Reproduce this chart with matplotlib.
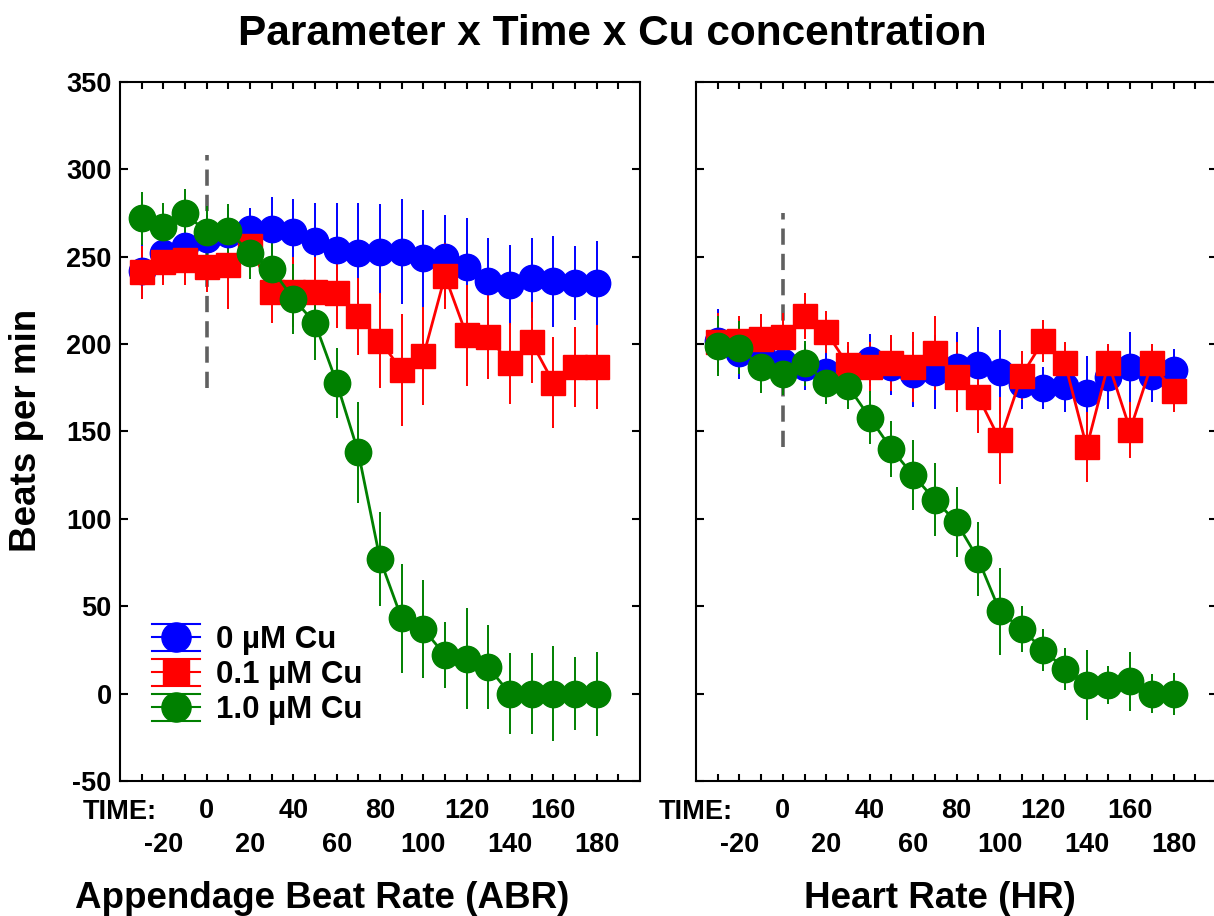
import matplotlib
matplotlib.use('Agg')
import matplotlib.pyplot as plt
from matplotlib.lines import Line2D
from matplotlib.legend_handler import HandlerBase

plt.rcParams['font.family'] = ['Liberation Sans', 'DejaVu Sans']
plt.rcParams['font.weight'] = 'bold'
plt.rcParams['axes.unicode_minus'] = False

# Tiempo (min) de cada medicion
time = [-30, -20, -10, 0, 10, 20, 30, 40, 50, 60, 70, 80, 90, 100, 110, 120, 130, 140, 150, 160, 170, 180]

# Appendage Beat Rate (ABR)
abr_0 = [242, 252, 256, 260, 263, 266, 266, 264, 259, 254, 252, 253, 253, 249, 250, 244, 236, 234, 238, 236, 235, 235]
abr_0_err = [16, 15, 15, 14, 15, 12, 18, 19, 22, 27, 29, 27, 30, 28, 24, 28, 25, 23, 23, 26, 21, 24]
abr_01 = [241, 247, 248, 244, 245, 256, 230, 230, 230, 229, 216, 202, 185, 193, 239, 205, 204, 189, 201, 178, 187, 187]
abr_01_err = [15, 13, 14, 14, 25, 12, 18, 20, 20, 20, 22, 27, 32, 28, 19, 29, 24, 23, 23, 26, 23, 24]
abr_1 = [272, 267, 275, 264, 265, 252, 243, 226, 212, 178, 138, 77, 43, 37, 22, 20, 15, 0, 0, 0, 0, 0]
abr_1_err = [15, 14, 14, 15, 15, 15, 18, 20, 21, 20, 29, 27, 31, 28, 19, 29, 24, 23, 23, 27, 21, 24]

# Heart Rate (HR)
hr_0 = [202, 195, 197, 190, 187, 184, 185, 191, 187, 183, 184, 187, 188, 184, 177, 175, 176, 172, 181, 187, 182, 185]
hr_0_err = [18, 15, 17, 15, 13, 13, 14, 15, 16, 19, 21, 20, 22, 24, 14, 12, 15, 21, 18, 20, 15, 12]
hr_01 = [201, 202, 203, 204, 216, 207, 188, 187, 189, 187, 195, 181, 170, 145, 182, 202, 189, 141, 189, 151, 189, 173]
hr_01_err = [17, 14, 14, 14, 13, 12, 13, 14, 16, 20, 21, 20, 21, 25, 14, 12, 12, 20, 11, 16, 11, 12]
hr_1 = [199, 198, 187, 183, 189, 178, 176, 158, 140, 125, 111, 98, 77, 47, 37, 25, 14, 5, 5, 7, 0, 0]
hr_1_err = [17, 15, 15, 12, 13, 12, 13, 15, 16, 20, 21, 20, 21, 25, 13, 12, 12, 20, 11, 17, 11, 12]

labels = ['0 µM Cu', '0.1 µM Cu', '1.0 µM Cu']
colors = ['#0000ff', '#ff0000', '#008000']
markers = ['o', 's', 'o']
msizes = [19, 17, 19]

# Linea punteada de aplicacion del Cu (t = 0)
cu_time = 0
abr_dash = [175, 308]
hr_dash = [141, 275]

# etiquetas del eje x en dos filas
row1_ticks = [0, 40, 80, 120, 160]
row2_ticks = [-20, 20, 60, 100, 140, 180]


class HandlerErr(HandlerBase):
    # marcador con lineas horizontales arriba y abajo, estilo Statistica
    def create_artists(self, legend, orig_handle, xdescent, ydescent,
                       width, height, fontsize, trans):
        c = orig_handle.get_color()
        x0, x1 = -xdescent, -xdescent + width
        yc = -ydescent + height / 2
        arts = []
        for y in (-ydescent, yc, -ydescent + height):
            ln = Line2D([x0, x1], [y, y], color=c, lw=1.5)
            ln.set_transform(trans)
            arts.append(ln)
        mk = Line2D([(x0 + x1) / 2], [yc], marker=orig_handle.get_marker(),
                    markersize=orig_handle.get_markersize(), color=c, lw=0)
        mk.set_transform(trans)
        arts.append(mk)
        return arts


fig = plt.figure(figsize=(12.14, 9.16), dpi=100)
ax1 = fig.add_axes([120 / 1214, 1 - 781 / 916, 520 / 1214, 699 / 916])
ax2 = fig.add_axes([696 / 1214, 1 - 781 / 916, 521 / 1214, 699 / 916])

panels = [
    (ax1, [abr_0, abr_01, abr_1], [abr_0_err, abr_01_err, abr_1_err], abr_dash),
    (ax2, [hr_0, hr_01, hr_1], [hr_0_err, hr_01_err, hr_1_err], hr_dash),
]

for ax, series, errs, dash in panels:
    ax.vlines(cu_time, dash[0], dash[1], colors='#606060', linewidth=2.6,
              linestyles=(0, (4.5, 2.5)), zorder=1)
    for vals, err, c, m, ms in zip(series, errs, colors, markers, msizes):
        ax.errorbar(time, vals, yerr=err, color=c, marker=m, markersize=ms,
                    lw=2.0, elinewidth=1.4, capsize=0)
    ax.set_xlim(-40, 200)
    ax.set_ylim(-50, 350)
    ax.set_yticks(range(-50, 351, 50))
    ax.set_xticks(range(-30, 191, 10))
    ax.set_xticklabels([str(t) if t in row1_ticks else '' for t in range(-30, 191, 10)])
    ax.tick_params(direction='in', top=True, right=True, length=6, width=1.5,
                   labelsize=19.5, pad=6)
    ax.tick_params(axis='x', length=5, pad=12)
    for sp in ax.spines.values():
        sp.set_linewidth(1.5)

    # segunda fila de etiquetas
    sec = ax.secondary_xaxis('bottom')
    sec.set_xticks(row2_ticks)
    sec.set_xticklabels([str(t) for t in row2_ticks])
    sec.tick_params(length=0, labelsize=19.5, pad=37)
    sec.spines['bottom'].set_visible(False)

    ax.text(0.0, -0.026, 'TIME:', transform=ax.transAxes,
            ha='center', va='top', fontsize=19.5, fontweight='bold')

ax2.tick_params(labelleft=False)

handles = [Line2D([], [], color=c, marker=m, markersize=ms + 2) for c, m, ms in zip(colors, markers, msizes)]
ax1.legend(handles, labels, handler_map={Line2D: HandlerErr()}, loc='lower left',
           bbox_to_anchor=(0.0615, 0.08), frameon=False, prop={'size': 22.5, 'weight': 'bold'},
           handlelength=1.55, handleheight=0.95, labelspacing=0.12, handletextpad=0.5,
           borderpad=0, borderaxespad=0)

fig.text(0.504, 1 - 34 / 916, 'Parameter x Time x Cu concentration', ha='center', va='center',
         fontsize=30.5, fontweight='bold')
fig.text(27 / 1214, 1 - 430 / 916, 'Beats per min', rotation=90, ha='center', va='center',
         fontsize=26.5, fontweight='bold')
fig.text(322 / 1214, 1 - 898 / 916, 'Appendage Beat Rate (ABR)', ha='center', va='center',
         fontsize=26.5, fontweight='bold')
fig.text(940 / 1214, 1 - 898 / 916, 'Heart Rate (HR)', ha='center', va='center',
         fontsize=26.5, fontweight='bold')

fig.savefig('out.png', dpi=100)
